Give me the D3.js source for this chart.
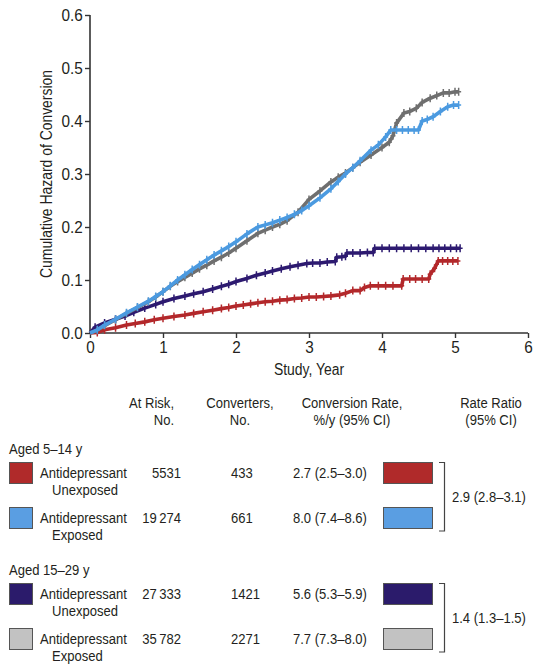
<!DOCTYPE html>
<html>
<head>
<meta charset="utf-8">
<style>
  body { margin: 0; background: #fff; }
  svg text { font-family: "Liberation Sans", Arial, sans-serif; fill: #231f20; }
</style>
</head>
<body>
<div id="vis"></div>
<script src="https://cdn.jsdelivr.net/npm/d3@7"></script>
<script>
// cumulative hazard curves (time in years, hazard)
const redT = [0, 0.1, 0.2, 0.35, 0.5, 0.62, 0.75, 0.88, 1.0, 1.15, 1.3, 1.42, 1.55, 1.68, 1.8, 1.9, 2.0, 2.1, 2.2, 2.3, 2.4, 2.5, 2.6, 2.7, 2.8, 2.9, 3.0, 3.1, 3.2, 3.3, 3.42, 3.5, 3.6, 3.7, 3.76, 3.84, 3.95, 4.05, 4.15, 4.27, 4.29, 4.38, 4.46, 4.55, 4.64, 4.66, 4.72, 4.77, 4.83, 4.9, 4.97, 5.04]
const redV = [0, 0.001, 0.006, 0.010, 0.015, 0.018, 0.021, 0.025, 0.028, 0.031, 0.034, 0.037, 0.040, 0.043, 0.046, 0.048, 0.051, 0.053, 0.055, 0.057, 0.059, 0.060, 0.062, 0.063, 0.065, 0.066, 0.068, 0.068, 0.069, 0.070, 0.072, 0.075, 0.080, 0.080, 0.086, 0.089, 0.089, 0.089, 0.089, 0.089, 0.102, 0.102, 0.102, 0.102, 0.102, 0.111, 0.122, 0.136, 0.136, 0.136, 0.136, 0.136]

const blueT = [0, 0.1, 0.2, 0.35, 0.5, 0.65, 0.8, 0.9, 1.0, 1.1, 1.2, 1.3, 1.4, 1.5, 1.6, 1.7, 1.8, 1.9, 2.0, 2.15, 2.3, 2.4, 2.5, 2.6, 2.7, 2.8, 2.9, 3.0, 3.15, 3.3, 3.4, 3.5, 3.6, 3.7, 3.85, 3.95, 4.05, 4.12, 4.2, 4.28, 4.36, 4.44, 4.5, 4.55, 4.62, 4.7, 4.8, 4.9, 4.98, 5.05]
const blueV = [0, 0.006, 0.015, 0.026, 0.038, 0.049, 0.060, 0.069, 0.078, 0.089, 0.100, 0.110, 0.120, 0.129, 0.138, 0.147, 0.155, 0.163, 0.172, 0.187, 0.200, 0.204, 0.208, 0.213, 0.218, 0.224, 0.231, 0.240, 0.255, 0.272, 0.286, 0.300, 0.312, 0.325, 0.345, 0.355, 0.370, 0.383, 0.383, 0.383, 0.383, 0.383, 0.383, 0.400, 0.403, 0.408, 0.418, 0.427, 0.430, 0.430]

const purpleT = [0, 0.07, 0.2, 0.35, 0.48, 0.6, 0.75, 0.9, 1.0, 1.15, 1.3, 1.42, 1.55, 1.68, 1.8, 1.9, 2.0, 2.15, 2.28, 2.4, 2.5, 2.62, 2.74, 2.85, 2.97, 3.05, 3.15, 3.25, 3.36, 3.38, 3.45, 3.5, 3.52, 3.6, 3.7, 3.8, 3.88, 3.9, 4.0, 4.1, 4.2, 4.3, 4.4, 4.5, 4.6, 4.7, 4.78, 4.86, 4.94, 5.02, 5.07]
const purpleV = [0, 0.011, 0.019, 0.026, 0.032, 0.039, 0.047, 0.054, 0.059, 0.065, 0.070, 0.074, 0.078, 0.083, 0.088, 0.092, 0.097, 0.103, 0.109, 0.113, 0.117, 0.121, 0.125, 0.128, 0.131, 0.132, 0.132, 0.134, 0.135, 0.143, 0.144, 0.145, 0.151, 0.151, 0.151, 0.152, 0.152, 0.160, 0.160, 0.160, 0.160, 0.160, 0.160, 0.160, 0.160, 0.160, 0.160, 0.160, 0.160, 0.160, 0.160]

const grayT = [0, 0.1, 0.2, 0.35, 0.5, 0.65, 0.8, 0.9, 1.0, 1.1, 1.2, 1.3, 1.4, 1.5, 1.6, 1.7, 1.8, 1.9, 2.0, 2.15, 2.3, 2.4, 2.5, 2.6, 2.7, 2.85, 3.0, 3.15, 3.3, 3.4, 3.5, 3.6, 3.7, 3.85, 4.0, 4.1, 4.15, 4.2, 4.3, 4.38, 4.47, 4.55, 4.66, 4.75, 4.84, 4.92, 5.0, 5.05]
const grayV = [0, 0.005, 0.014, 0.025, 0.037, 0.048, 0.059, 0.068, 0.078, 0.088, 0.097, 0.105, 0.113, 0.121, 0.128, 0.136, 0.143, 0.151, 0.160, 0.174, 0.188, 0.194, 0.200, 0.205, 0.212, 0.228, 0.252, 0.268, 0.285, 0.294, 0.302, 0.312, 0.322, 0.336, 0.350, 0.360, 0.372, 0.396, 0.415, 0.418, 0.424, 0.435, 0.443, 0.448, 0.453, 0.453, 0.455, 0.455]

// table
const groups = ["Aged 5–14 y", "Aged 15–29 y"]
const exposure = ["Unexposed", "Exposed", "Unexposed", "Exposed"]
const atRisk = ["5531", "19\u2009274", "27\u2009333", "35\u2009782"]
const converters = ["433", "661", "1421", "2271"]
const rates = ["2.7 (2.5–3.0)", "8.0 (7.4–8.6)", "5.6 (5.3–5.9)", "7.7 (7.3–8.0)"]
const ratios = ["2.9 (2.8–3.1)", "1.4 (1.3–1.5)"]

const xTicks = [0, 1, 2, 3, 4, 5, 6]
const yTicks = [0, 0.1, 0.2, 0.3, 0.4, 0.5, 0.6]

// series in table order
const series = [
  {t: redT, v: redV, line: "#b3282b", fill: "#b02a2a"},
  {t: blueT, v: blueV, line: "#4b9ae0", fill: "#5a9ee2"},
  {t: purpleT, v: purpleV, line: "#2d1a70", fill: "#2b1b6b"},
  {t: grayT, v: grayV, line: "#6f6f6f", fill: "#c2c2c2"}
]

const W = 533, H = 665
const SX = 0.87   // condensed look
const svg = d3.select('#vis').append('svg')
  .attr('width', W).attr('height', H)

function txt(g, x, y, s, anchor, size) {
  return g.append('text')
    .attr('transform', `translate(${x},${y}) scale(${SX},1)`)
    .attr('text-anchor', anchor || 'start')
    .style('font-size', (size || 15) + 'px')
    .text(s)
}

const x = d3.scaleLinear().domain([0, 6]).range([90, 528])
const y = d3.scaleLinear().domain([0, 0.6]).range([333, 15])

// axes
const axisColor = "#333"
const gx = svg.append('g')
  .attr('transform', `translate(0, ${y(0)})`)
  .call(d3.axisBottom(x).tickValues(xTicks).tickFormat(d3.format('d')).tickSize(5).tickPadding(3))
const gy = svg.append('g')
  .attr('transform', `translate(${x(0)}, 0)`)
  .call(d3.axisLeft(y).tickValues(yTicks).tickFormat(d3.format('.1f')).tickSize(5).tickPadding(3))
for (const g of [gx, gy]) {
  g.selectAll('.domain').attr('stroke', axisColor).attr('stroke-width', 1.6)
  g.selectAll('.tick line').attr('stroke', axisColor).attr('stroke-width', 1.4)
  g.selectAll('.tick text').style('font-size', '17px').attr('fill', '#231f20')
    .attr('transform', `scale(0.9,1)`)
}
gx.select('.domain').attr('d', `M${x(0)},0H${x(6)}`)
gy.select('.domain').attr('d', `M0,${y(0.6)}V${y(0)}`)

txt(svg, (x(0) + x(6)) / 2, 375, 'Study, Year', 'middle', 16)
svg.append('text')
  .attr('transform', `translate(52, ${(y(0) + y(0.6)) / 2}) rotate(-90) scale(${SX},1)`)
  .attr('text-anchor', 'middle').style('font-size', '16px')
  .text('Cumulative Hazard of Conversion')

// curves with censoring crosses
const line = d3.line()
const drawOrder = [0, 2, 3, 1]
for (const i of drawOrder) {
  const s = series[i]
  const pts = s.t.map((t, k) => [x(t), y(s.v[k])])
  const g = svg.append('g')
  g.append('path')
    .attr('d', line(pts))
    .attr('fill', 'none')
    .attr('stroke', s.line)
    .attr('stroke-width', 3.6)
    .attr('stroke-linejoin', 'round')
  g.append('path')
    .attr('d', pts.slice(1).map(p => `M${p[0]},${p[1] - 4}v8M${p[0] - 2.5},${p[1]}h5`).join(''))
    .attr('stroke', s.line)
    .attr('stroke-width', 1.5)
}

// table header
const header = svg.append('g')
const heads = [
  {x: 174, anchor: 'end', lines: ['At Risk,', 'No.']},
  {x: 240, anchor: 'middle', lines: ['Converters,', 'No.']},
  {x: 352, anchor: 'middle', lines: ['Conversion Rate,', '%/y (95% CI)']},
  {x: 491, anchor: 'middle', lines: ['Rate Ratio', '(95% CI)']}
]
heads.forEach(h => {
  h.lines.forEach((l, k) => txt(header, h.x, 408 + k * 17, l, h.anchor, 15))
})

// table rows
const rowTop = i => 462 + (i % 2) * 45 + Math.floor(i / 2) * 121
const table = svg.append('g')

groups.forEach((gname, gi) => txt(table, 9, rowTop(gi * 2) - 8, gname))

series.forEach((s, i) => {
  const top = rowTop(i)
  const base = top + 16
  table.append('rect')
    .attr('x', 9.5).attr('y', top + 0.5)
    .attr('width', 23).attr('height', 21)
    .attr('fill', s.fill).attr('stroke', '#555').attr('stroke-width', 1)
  txt(table, 40, base, 'Antidepressant')
  txt(table, 52, base + 17, exposure[i])
  txt(table, 181, base, atRisk[i], 'end')
  txt(table, 231, base, converters[i])
  txt(table, 293, base, rates[i])
  table.append('rect')
    .attr('x', 383.5).attr('y', top + 0.5)
    .attr('width', 49).attr('height', 21)
    .attr('fill', s.fill).attr('stroke', '#555').attr('stroke-width', 1)
})

// brackets with rate ratios
ratios.forEach((r, gi) => {
  const t0 = rowTop(gi * 2), t1 = rowTop(gi * 2 + 1) + 22
  table.append('path')
    .attr('d', `M439,${t0 + 0.5}H444.5V${t1 + 2}H439`)
    .attr('fill', 'none').attr('stroke', '#444').attr('stroke-width', 1.2)
  txt(table, 452, (t0 + t1) / 2 + 6, r)
})
</script>
</body>
</html>
